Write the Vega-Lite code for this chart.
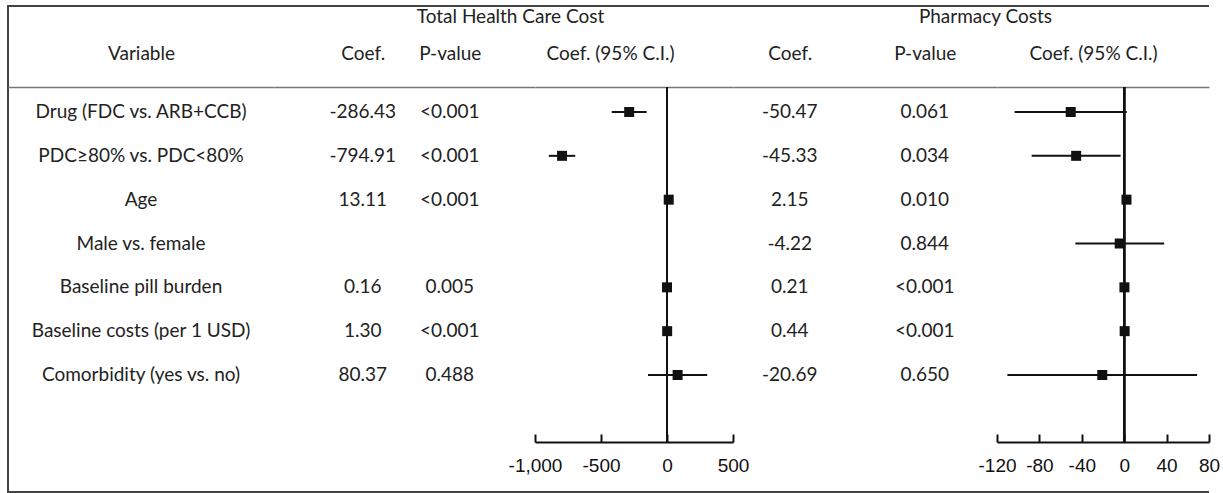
{
  "$schema": "https://vega.github.io/schema/vega-lite/v6.json",
  "padding": {"left": 7, "top": 5, "right": 0, "bottom": 0},
  "spacing": 0,
  "bounds": "flush",
  "resolve": {"scale": {"x": "independent", "y": "independent"}},
  "config": {
    "view": {"stroke": "#444", "strokeWidth": 2},
    "font": "Lato",
    "concat": {"spacing": 0},
    "locale": {"number": {"decimal": ".", "thousands": ",", "grouping": [3], "currency": ["$", ""], "minus": "-"}},
    "axis": {"grid": false, "labelAngle": 0, "titleFontWeight": "normal"}
  },
  "datasets": {
    "variables": [
      {"Variable": "Drug (FDC vs. ARB+CCB)"},
      {"Variable": "PDC≥80% vs. PDC<80%"},
      {"Variable": "Age"},
      {"Variable": "Male vs. female"},
      {"Variable": "Baseline pill burden"},
      {"Variable": "Baseline costs (per 1 USD)"},
      {"Variable": "Comorbidity (yes vs. no)"}
    ],
    "cells": [
      {"Variable": "Drug (FDC vs. ARB+CCB)", "group": "Total", "column": "Coef.", "value": "-286.43"},
      {"Variable": "Drug (FDC vs. ARB+CCB)", "group": "Total", "column": "P-value", "value": "<0.001"},
      {"Variable": "PDC≥80% vs. PDC<80%", "group": "Total", "column": "Coef.", "value": "-794.91"},
      {"Variable": "PDC≥80% vs. PDC<80%", "group": "Total", "column": "P-value", "value": "<0.001"},
      {"Variable": "Age", "group": "Total", "column": "Coef.", "value": "13.11"},
      {"Variable": "Age", "group": "Total", "column": "P-value", "value": "<0.001"},
      {"Variable": "Baseline pill burden", "group": "Total", "column": "Coef.", "value": "0.16"},
      {"Variable": "Baseline pill burden", "group": "Total", "column": "P-value", "value": "0.005"},
      {"Variable": "Baseline costs (per 1 USD)", "group": "Total", "column": "Coef.", "value": "1.30"},
      {"Variable": "Baseline costs (per 1 USD)", "group": "Total", "column": "P-value", "value": "<0.001"},
      {"Variable": "Comorbidity (yes vs. no)", "group": "Total", "column": "Coef.", "value": "80.37"},
      {"Variable": "Comorbidity (yes vs. no)", "group": "Total", "column": "P-value", "value": "0.488"},
      {"Variable": "Drug (FDC vs. ARB+CCB)", "group": "Pharmacy", "column": "Coef.", "value": "-50.47"},
      {"Variable": "Drug (FDC vs. ARB+CCB)", "group": "Pharmacy", "column": "P-value", "value": "0.061"},
      {"Variable": "PDC≥80% vs. PDC<80%", "group": "Pharmacy", "column": "Coef.", "value": "-45.33"},
      {"Variable": "PDC≥80% vs. PDC<80%", "group": "Pharmacy", "column": "P-value", "value": "0.034"},
      {"Variable": "Age", "group": "Pharmacy", "column": "Coef.", "value": "2.15"},
      {"Variable": "Age", "group": "Pharmacy", "column": "P-value", "value": "0.010"},
      {"Variable": "Male vs. female", "group": "Pharmacy", "column": "Coef.", "value": "-4.22"},
      {"Variable": "Male vs. female", "group": "Pharmacy", "column": "P-value", "value": "0.844"},
      {"Variable": "Baseline pill burden", "group": "Pharmacy", "column": "Coef.", "value": "0.21"},
      {"Variable": "Baseline pill burden", "group": "Pharmacy", "column": "P-value", "value": "<0.001"},
      {"Variable": "Baseline costs (per 1 USD)", "group": "Pharmacy", "column": "Coef.", "value": "0.44"},
      {"Variable": "Baseline costs (per 1 USD)", "group": "Pharmacy", "column": "P-value", "value": "<0.001"},
      {"Variable": "Comorbidity (yes vs. no)", "group": "Pharmacy", "column": "Coef.", "value": "-20.69"},
      {"Variable": "Comorbidity (yes vs. no)", "group": "Pharmacy", "column": "P-value", "value": "0.650"}
    ],
    "forest": [
      {"Variable": "Drug (FDC vs. ARB+CCB)", "group": "Total", "coef": -286.43, "lo": -419, "hi": -154},
      {"Variable": "PDC≥80% vs. PDC<80%", "group": "Total", "coef": -794.91, "lo": -895, "hi": -695},
      {"Variable": "Age", "group": "Total", "coef": 13.11, "lo": 11.0, "hi": 15.2},
      {"Variable": "Baseline pill burden", "group": "Total", "coef": 0.16, "lo": 0.05, "hi": 0.27},
      {"Variable": "Baseline costs (per 1 USD)", "group": "Total", "coef": 1.30, "lo": 1.24, "hi": 1.36},
      {"Variable": "Comorbidity (yes vs. no)", "group": "Total", "coef": 80.37, "lo": -144, "hi": 305},
      {"Variable": "Drug (FDC vs. ARB+CCB)", "group": "Pharmacy", "coef": -50.47, "lo": -103.4, "hi": 2.4},
      {"Variable": "PDC≥80% vs. PDC<80%", "group": "Pharmacy", "coef": -45.33, "lo": -87.3, "hi": -3.4},
      {"Variable": "Age", "group": "Pharmacy", "coef": 2.15, "lo": 0.5, "hi": 3.8},
      {"Variable": "Male vs. female", "group": "Pharmacy", "coef": -4.22, "lo": -46.1, "hi": 37.7},
      {"Variable": "Baseline pill burden", "group": "Pharmacy", "coef": 0.21, "lo": 0.15, "hi": 0.27},
      {"Variable": "Baseline costs (per 1 USD)", "group": "Pharmacy", "coef": 0.44, "lo": 0.41, "hi": 0.47},
      {"Variable": "Comorbidity (yes vs. no)", "group": "Pharmacy", "coef": -20.69, "lo": -110.2, "hi": 68.8}
    ]
  },
  "hconcat": [
    {
      "width": 266, "height": 486,
      "view": {"strokeDash": [266, 486, 752]},
      "data": {"name": "variables"},
      "mark": {"type": "text", "font": "Lato", "fontSize": 19, "color": "#222"},
      "encoding": {
        "x": {"datum": "Variable", "type": "nominal",
          "axis": {"orient": "top", "offset": -81, "title": null, "ticks": false, "domain": true, "domainColor": "#777", "domainWidth": 1.5, "labelFont": "Lato", "labelFontSize": 19, "labelColor": "#222", "labelPadding": 24}},
        "y": {"field": "Variable", "type": "nominal",
          "scale": {"type": "point", "domain": ["Drug (FDC vs. ARB+CCB)", "PDC≥80% vs. PDC<80%", "Age", "Male vs. female", "Baseline pill burden", "Baseline costs (per 1 USD)", "Comorbidity (yes vs. no)"], "range": [106, 369], "padding": 0},
          "axis": null},
        "text": {"field": "Variable"}
      }
    },
    {
      "width": 261, "height": 486,
      "view": {"strokeDash": [261, 486]},
      "data": {"name": "cells"},
      "transform": [{"filter": "datum.group == 'Total'"}],
      "mark": {"type": "text", "font": "Lato", "fontSize": 19, "color": "#222"},
      "encoding": {
        "x": {"field": "column", "type": "nominal",
          "scale": {"type": "point", "domain": ["Coef.", "P-value"], "padding": 1, "align": 0.51},
          "axis": {"orient": "top", "offset": -81, "title": "Total Health Care Cost", "titleX": 236, "titleFont": "Lato", "titleFontSize": 19, "titleColor": "#222", "titlePadding": 18, "ticks": false, "domain": true, "domainColor": "#777", "domainWidth": 1.5, "labelFont": "Lato", "labelFontSize": 19, "labelColor": "#222", "labelPadding": 24}},
        "y": {"field": "Variable", "type": "nominal",
          "scale": {"type": "point", "domain": ["Drug (FDC vs. ARB+CCB)", "PDC≥80% vs. PDC<80%", "Age", "Male vs. female", "Baseline pill burden", "Baseline costs (per 1 USD)", "Comorbidity (yes vs. no)"], "range": [106, 369], "padding": 0},
          "axis": null},
        "text": {"field": "value"}
      }
    },
    {
      "width": 198, "height": 486,
      "view": {"strokeDash": [198, 486]},
      "data": {"name": "forest"},
      "transform": [{"filter": "datum.group == 'Total'"}],
      "encoding": {
        "y": {"field": "Variable", "type": "nominal",
          "scale": {"type": "point", "domain": ["Drug (FDC vs. ARB+CCB)", "PDC≥80% vs. PDC<80%", "Age", "Male vs. female", "Baseline pill burden", "Baseline costs (per 1 USD)", "Comorbidity (yes vs. no)"], "range": [106, 369], "padding": 0},
          "axis": null}
      },
      "layer": [
        {
          "mark": {"type": "rule", "color": "#111", "strokeWidth": 2, "yOffset": -25, "y2Offset": 67},
          "encoding": {
            "y": {"datum": "Drug (FDC vs. ARB+CCB)", "type": "nominal"},
            "y2": {"datum": "Comorbidity (yes vs. no)"},
            "x": {"datum": 0, "type": "quantitative",
              "scale": {"domain": [-1000, 500], "nice": false, "zero": false},
              "axis": {"orient": "top", "offset": -81, "title": "Coef. (95% C.I.)", "titleX": 75, "titleFont": "Lato", "titleFontSize": 19, "titleColor": "#222", "titlePadding": 24, "labels": false, "ticks": false, "domain": true, "domainColor": "#777", "domainWidth": 1.5}}
          }
        },
        {
          "mark": {"type": "rule", "color": "#111", "strokeWidth": 2},
          "encoding": {
            "x": {"field": "lo", "type": "quantitative",
              "axis": {"orient": "bottom", "offset": -50, "title": null, "values": [-1000, -500, 0, 500], "format": ",d", "domainColor": "#111", "domainWidth": 2, "ticks": true, "tickSize": -8, "tickColor": "#111", "tickWidth": 2, "labelFont": "Liberation Sans, Arial", "labelFontSize": 19, "labelColor": "#111", "labelPadding": 22, "labelFlush": false, "labelOverlap": false}},
            "x2": {"field": "hi"}
          }
        },
        {
          "mark": {"type": "point", "shape": "square", "filled": true, "size": 100, "color": "#111", "opacity": 1},
          "encoding": {"x": {"field": "coef", "type": "quantitative", "axis": null}}
        }
      ]
    },
    {
      "width": 264, "height": 486,
      "view": {"strokeDash": [264, 486]},
      "data": {"name": "cells"},
      "transform": [{"filter": "datum.group == 'Pharmacy'"}],
      "mark": {"type": "text", "font": "Lato", "fontSize": 19, "color": "#222"},
      "encoding": {
        "x": {"field": "column", "type": "nominal",
          "scale": {"type": "point", "domain": ["Coef.", "P-value"], "padding": 0.478, "align": 0.44},
          "axis": {"orient": "top", "offset": -81, "title": "Pharmacy Costs", "titleX": 252, "titleFont": "Lato", "titleFontSize": 19, "titleColor": "#222", "titlePadding": 18, "ticks": false, "domain": true, "domainColor": "#777", "domainWidth": 1.5, "labelFont": "Lato", "labelFontSize": 19, "labelColor": "#222", "labelPadding": 24}},
        "y": {"field": "Variable", "type": "nominal",
          "scale": {"type": "point", "domain": ["Drug (FDC vs. ARB+CCB)", "PDC≥80% vs. PDC<80%", "Age", "Male vs. female", "Baseline pill burden", "Baseline costs (per 1 USD)", "Comorbidity (yes vs. no)"], "range": [106, 369], "padding": 0},
          "axis": null},
        "text": {"field": "value"}
      }
    },
    {
      "width": 212, "height": 486,
      "view": {"strokeDash": [212, 486]},
      "data": {"name": "forest"},
      "transform": [{"filter": "datum.group == 'Pharmacy'"}],
      "encoding": {
        "y": {"field": "Variable", "type": "nominal",
          "scale": {"type": "point", "domain": ["Drug (FDC vs. ARB+CCB)", "PDC≥80% vs. PDC<80%", "Age", "Male vs. female", "Baseline pill burden", "Baseline costs (per 1 USD)", "Comorbidity (yes vs. no)"], "range": [106, 369], "padding": 0},
          "axis": null}
      },
      "layer": [
        {
          "mark": {"type": "rule", "color": "#111", "strokeWidth": 2, "yOffset": -25, "y2Offset": 67},
          "encoding": {
            "y": {"datum": "Drug (FDC vs. ARB+CCB)", "type": "nominal"},
            "y2": {"datum": "Comorbidity (yes vs. no)"},
            "x": {"datum": 0, "type": "quantitative",
              "scale": {"domain": [-120, 80], "nice": false, "zero": false},
              "axis": {"orient": "top", "offset": -81, "title": "Coef. (95% C.I.)", "titleX": 96, "titleFont": "Lato", "titleFontSize": 19, "titleColor": "#222", "titlePadding": 24, "labels": false, "ticks": false, "domain": true, "domainColor": "#777", "domainWidth": 1.5}}
          }
        },
        {
          "mark": {"type": "rule", "color": "#111", "strokeWidth": 2},
          "encoding": {
            "x": {"field": "lo", "type": "quantitative",
              "axis": {"orient": "bottom", "offset": -50, "title": null, "values": [-120, -80, -40, 0, 40, 80], "format": ",d", "domainColor": "#111", "domainWidth": 2, "ticks": true, "tickSize": -8, "tickColor": "#111", "tickWidth": 2, "labelFont": "Liberation Sans, Arial", "labelFontSize": 19, "labelColor": "#111", "labelPadding": 22, "labelFlush": false, "labelOverlap": false}},
            "x2": {"field": "hi"}
          }
        },
        {
          "mark": {"type": "point", "shape": "square", "filled": true, "size": 100, "color": "#111", "opacity": 1},
          "encoding": {"x": {"field": "coef", "type": "quantitative", "axis": null}}
        }
      ]
    }
  ]
}
